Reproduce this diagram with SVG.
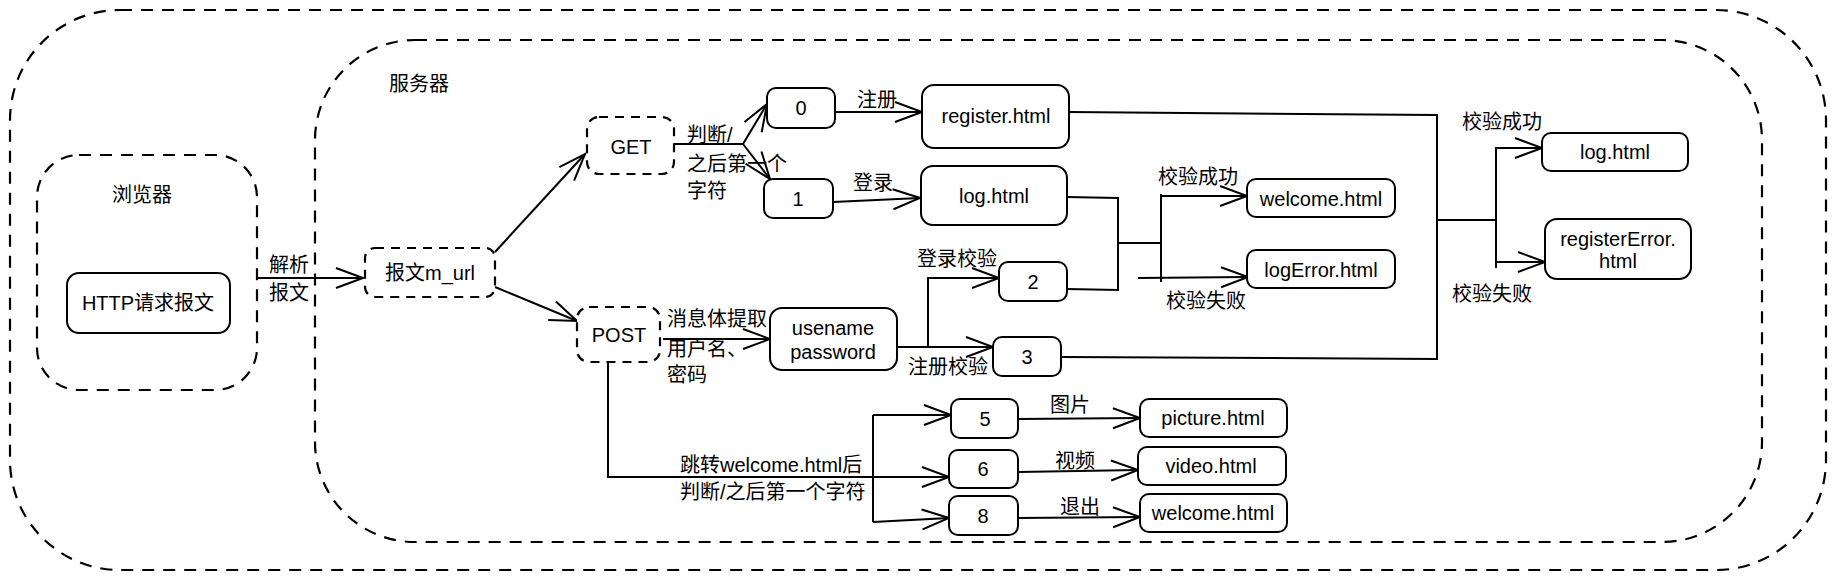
<svg xmlns="http://www.w3.org/2000/svg" width="1839" height="581" viewBox="0 0 1839 581">
<style>
.bx{fill:#fff;stroke:#000;stroke-width:2}
.dz{fill:none;stroke:#000;stroke-width:2.2;stroke-dasharray:12 9}
.dzf{fill:#fff;stroke:#000;stroke-width:2.2;stroke-dasharray:9 7}
.e{fill:none;stroke:#000;stroke-width:2}
.a{marker-end:url(#arr)}
text{font-family:"Liberation Sans","Noto Sans CJK SC",sans-serif;font-size:20px;fill:#000}
.c{text-anchor:middle;dominant-baseline:central}
.l{text-anchor:start;dominant-baseline:central}
</style>
<defs>
<marker id="arr" markerUnits="userSpaceOnUse" markerWidth="32" markerHeight="26" refX="29" refY="13" orient="auto">
<path d="M2,3 L29,13 L2,23" fill="none" stroke="#000" stroke-width="2"/>
</marker>
</defs>
<rect x="0" y="0" width="1839" height="581" fill="#fff"/>
<g id="outer"><rect class="dz" x="10" y="10" width="1816" height="560" rx="110"/></g>
<g id="server"><rect class="dz" x="315" y="40" width="1447" height="502" rx="100"/><text class="c" x="419" y="84">服务器</text></g>
<g id="browser"><rect class="dz" x="37" y="155" width="220" height="235" rx="42"/><text class="c" x="142" y="195">浏览器</text></g>
<g id="http"><rect class="bx" x="67" y="273" width="163" height="60" rx="12"/><text class="c" x="148" y="303">HTTP请求报文</text></g>
<g id="connectors">
<path class="e a" d="M257,278 L363,278"/>
<path class="e a" d="M495,252 L585,154"/>
<path class="e a" d="M495,287 L577,321"/>
<path class="e" d="M674,144 L743,144"/>
<path class="e a" d="M743,144 L767,104"/>
<path class="e a" d="M743,144 L770,179"/>
<path class="e a" d="M835,112 L922,112"/>
<path class="e a" d="M833,202 L920,198"/>
<path class="e a" d="M663,339 L770,339"/>
<path class="e a" d="M897,347 L993,347"/>
<path class="e a" d="M928,347 L928,278 L999,278"/>
<path class="e" d="M1067,197 L1118,198 L1118,290 L1067,289"/>
<path class="e" d="M1118,243 L1161,243"/>
<path class="e" d="M1161,194 L1161,282"/>
<path class="e a" d="M1161,196 L1247,196"/>
<path class="e a" d="M1138,278 L1248,277"/>
<path class="e" d="M1069,112 L1437,115 L1437,359 L1061,357"/>
<path class="e" d="M1437,220 L1496,220"/>
<path class="e" d="M1496,147 L1496,268"/>
<path class="e a" d="M1496,148 L1542,148"/>
<path class="e a" d="M1496,262 L1545,262"/>
<path class="e a" d="M608,362 L608,477 L949,477"/>
<path class="e" d="M873,415 L873,522"/>
<path class="e a" d="M873,415 L951,415"/>
<path class="e a" d="M873,522 L949,518"/>
<path class="e a" d="M1018,419 L1140,418"/>
<path class="e a" d="M1018,472 L1138,470"/>
<path class="e a" d="M1018,518 L1140,517"/>
<text class="c" x="289" y="265">解析</text>
<text class="c" x="289" y="293">报文</text>
<text class="l" x="687" y="135">判断/</text>
<text class="l" x="687" y="164">之后第一个</text>
<text class="l" x="687" y="191">字符</text>
<text class="c" x="877" y="100">注册</text>
<text class="c" x="873" y="183">登录</text>
<text class="l" x="667" y="319">消息体提取</text>
<text class="l" x="667" y="349">用户名、</text>
<text class="l" x="667" y="375">密码</text>
<text class="c" x="948" y="367">注册校验</text>
<text class="c" x="957" y="259">登录校验</text>
<text class="c" x="1198" y="177">校验成功</text>
<text class="c" x="1206" y="301">校验失败</text>
<text class="c" x="1502" y="122">校验成功</text>
<text class="c" x="1492" y="294">校验失败</text>
<text class="l" x="680" y="465">跳转welcome.html后</text>
<text class="l" x="680" y="492">判断/之后第一个字符</text>
<text class="c" x="1070" y="405">图片</text>
<text class="c" x="1075" y="461">视频</text>
<text class="c" x="1080" y="507">退出</text>
</g>
<g id="msg"><rect class="dzf" x="365" y="248" width="130" height="49" rx="10"/><text class="c" x="430" y="273">报文m_url</text></g>
<g id="get"><rect class="dzf" x="587" y="117" width="87" height="57" rx="12"/><text class="c" x="631" y="147">GET</text></g>
<g id="post"><rect class="dzf" x="577" y="307" width="83" height="55" rx="12"/><text class="c" x="619" y="335">POST</text></g>
<g id="n0"><rect class="bx" x="767" y="88" width="68" height="40" rx="9"/><text class="c" x="801" y="108">0</text></g>
<g id="n1"><rect class="bx" x="764" y="179" width="69" height="39" rx="9"/><text class="c" x="798" y="199">1</text></g>
<g id="register"><rect class="bx" x="922" y="85" width="147" height="63" rx="12"/><text class="c" x="996" y="116">register.html</text></g>
<g id="log1"><rect class="bx" x="921" y="166" width="146" height="59" rx="12"/><text class="c" x="994" y="196">log.html</text></g>
<g id="user"><rect class="bx" x="770" y="308" width="127" height="62" rx="12"/><text class="c" x="833" y="328">usename</text><text class="c" x="833" y="352">password</text></g>
<g id="n2"><rect class="bx" x="999" y="262" width="68" height="39" rx="9"/><text class="c" x="1033" y="282">2</text></g>
<g id="n3"><rect class="bx" x="993" y="337" width="68" height="39" rx="9"/><text class="c" x="1027" y="357">3</text></g>
<g id="welcome1"><rect class="bx" x="1247" y="179" width="148" height="38" rx="9"/><text class="c" x="1321" y="199">welcome.html</text></g>
<g id="logError"><rect class="bx" x="1247" y="250" width="148" height="38" rx="9"/><text class="c" x="1321" y="270">logError.html</text></g>
<g id="log2"><rect class="bx" x="1542" y="133" width="146" height="38" rx="9"/><text class="c" x="1615" y="152">log.html</text></g>
<g id="regErr"><rect class="bx" x="1545" y="219" width="146" height="60" rx="12"/><text class="c" x="1618" y="239">registerError.</text><text class="c" x="1618" y="261">html</text></g>
<g id="n5"><rect class="bx" x="951" y="399" width="67" height="39" rx="9"/><text class="c" x="985" y="419">5</text></g>
<g id="n6"><rect class="bx" x="949" y="450" width="69" height="38" rx="9"/><text class="c" x="983" y="469">6</text></g>
<g id="n8"><rect class="bx" x="949" y="496" width="69" height="39" rx="9"/><text class="c" x="983" y="516">8</text></g>
<g id="picture"><rect class="bx" x="1140" y="399" width="147" height="38" rx="9"/><text class="c" x="1213" y="418">picture.html</text></g>
<g id="video"><rect class="bx" x="1138" y="447" width="148" height="38" rx="9"/><text class="c" x="1211" y="466">video.html</text></g>
<g id="welcome2"><rect class="bx" x="1140" y="494" width="147" height="38" rx="9"/><text class="c" x="1213" y="513">welcome.html</text></g>
</svg>
